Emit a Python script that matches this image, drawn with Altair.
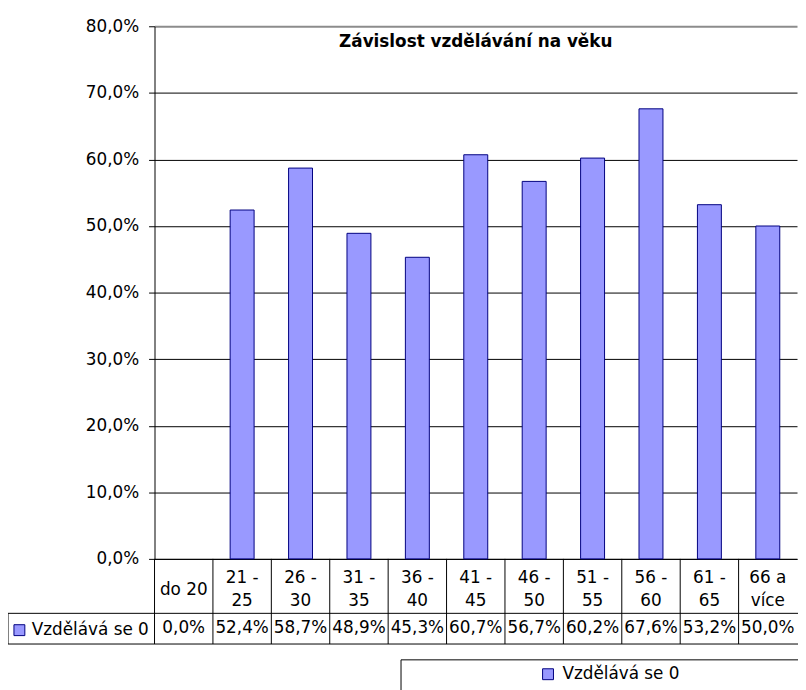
import altair as alt
import pandas as pd

# ---- data ----
categories = ["do 20", "21 -\n25", "26 -\n30", "31 -\n35", "36 -\n40", "41 -\n45",
              "46 -\n50", "51 -\n55", "56 -\n60", "61 -\n65", "66 a\nvíce"]
values = [0.000, 0.524, 0.587, 0.489, 0.453, 0.607, 0.567, 0.602, 0.676, 0.532, 0.500]
series_name = "Vzdělává se 0"
title_text = "Závislost vzdělávání na věku"
y_ticks = [0.0, 0.1, 0.2, 0.3, 0.4, 0.5, 0.6, 0.7, 0.8]

# ---- styling ----
W, H = 649, 538
FONT = "DejaVu Sans"
FS = 17
BAR_FILL = "#9999FF"
BAR_STROKE = "#000080"

df = pd.DataFrame({"cat": categories, "val": values, "series": series_name})
df["label"] = [f"{v * 100:.1f}%".replace(".", ",") for v in values]

one = pd.DataFrame({"k": [0]})

x_scale = alt.Scale(paddingInner=0, paddingOuter=0)

x_axis = alt.Axis(
    title=None, labelExpr="split(datum.label, '\\n')", labelAngle=0,
    labelFont=FONT, labelFontSize=FS, labelColor="black", labelLineHeight=23,
    labelBaseline="middle",
    labelPadding={"condition": {"test": "indexof(datum.value, '\\n') >= 0", "value": 19},
                  "value": 31},
    ticks=False, tickSize=0,
    domainColor="black", domainWidth=1, labelOverlap=False, labelLimit=300,
    grid=False,
)

def xenc(**kw):
    return alt.X("cat:N", sort=categories, scale=x_scale, axis=x_axis, **kw)

y_axis = alt.Axis(
    title=None, values=y_ticks,
    labelExpr="replace(format(datum.value, '.1%'), '.', ',')",
    labelFont=FONT, labelFontSize=FS, labelColor="black", labelPadding=10,
    tickSize=6, tickColor="black", domainColor="black",
    grid=True,
    gridColor={"condition": {"test": "datum.value >= 0.8", "value": "#8c8c8c"}, "value": "black"},
    gridWidth={"condition": {"test": "datum.value >= 0.8", "value": 2}, "value": 1},
    gridOpacity=1,
)

legend = alt.Legend(
    orient="none", legendX=389, legendY=646, title=None, padding=0,
    symbolType="square", symbolSize=121, symbolStrokeColor=BAR_STROKE,
    symbolStrokeWidth=1, symbolOpacity=1, labelFont=FONT, labelFontSize=FS,
    labelColor="black", labelOffset=6,
)

base = alt.Chart(df)

bars = base.transform_filter("datum.val > 0").mark_bar(
    width=alt.RelativeBandSize(0.41), stroke=BAR_STROKE, strokeWidth=1, opacity=1
).encode(
    x=xenc(),
    y=alt.Y("val:Q", scale=alt.Scale(domain=[0, 0.8], nice=False), axis=y_axis),
    color=alt.Color("series:N", scale=alt.Scale(range=[BAR_FILL]), legend=legend),
)

# data table: value row
value_row = base.mark_text(font=FONT, fontSize=FS, baseline="alphabetic",
                           align="center", color="black").encode(
    x=xenc(),
    y=alt.value(H + 75),
    text="label:N",
)

# vertical table lines at category boundaries
vlines = base.mark_rule(color="black", strokeWidth=1).encode(
    x=xenc(bandPosition=0),
    y=alt.value(H),
    y2=alt.value(H + 86),
)

hline1 = alt.Chart(one).mark_rule(color="black").encode(
    x=alt.value(-148), x2=alt.value(W + 1), y=alt.value(H + 55))
hline2 = alt.Chart(one).mark_rule(color="black").encode(
    x=alt.value(-148), x2=alt.value(W + 1), y=alt.value(H + 86))
vleft = alt.Chart(one).mark_rule(color="black").encode(
    x=alt.value(-148), y=alt.value(H + 55), y2=alt.value(H + 86))

# legend key inside the data table
key_sq = alt.Chart(one).mark_square(size=121, fill=BAR_FILL, stroke=BAR_STROKE,
                                    strokeWidth=1, opacity=1).encode(
    x=alt.value(-136.5), y=alt.value(H + 72))
key_txt = alt.Chart(one).mark_text(font=FONT, fontSize=FS, align="left",
                                   baseline="alphabetic", color="black").encode(
    x=alt.value(-124), y=alt.value(H + 77), text=alt.value(series_name))

# bottom legend frame
lg_top = alt.Chart(one).mark_rule(color="black").encode(
    x=alt.value(249), x2=alt.value(W + 1), y=alt.value(640))
lg_left = alt.Chart(one).mark_rule(color="black").encode(
    x=alt.value(249), y=alt.value(640), y2=alt.value(H + 140))

# chart title (inside the plot area)
title = alt.Chart(one).mark_text(font=FONT, fontSize=FS, fontWeight="bold",
                                 align="center", baseline="alphabetic",
                                 color="black").encode(
    x=alt.value(W / 2), y=alt.value(21), text=alt.value(title_text))

chart = alt.layer(
    bars, vlines, value_row, hline1, hline2, vleft, key_sq, key_txt,
    lg_top, lg_left, title,
).properties(
    width=W, height=H,
    autosize=alt.AutoSizeParams(type="none"),
    padding={"left": 148, "top": 15, "right": 1, "bottom": 130},
    background="white",
).configure_view(stroke=None)

chart.save("out.html", embed_options={"renderer": "svg", "actions": False})
